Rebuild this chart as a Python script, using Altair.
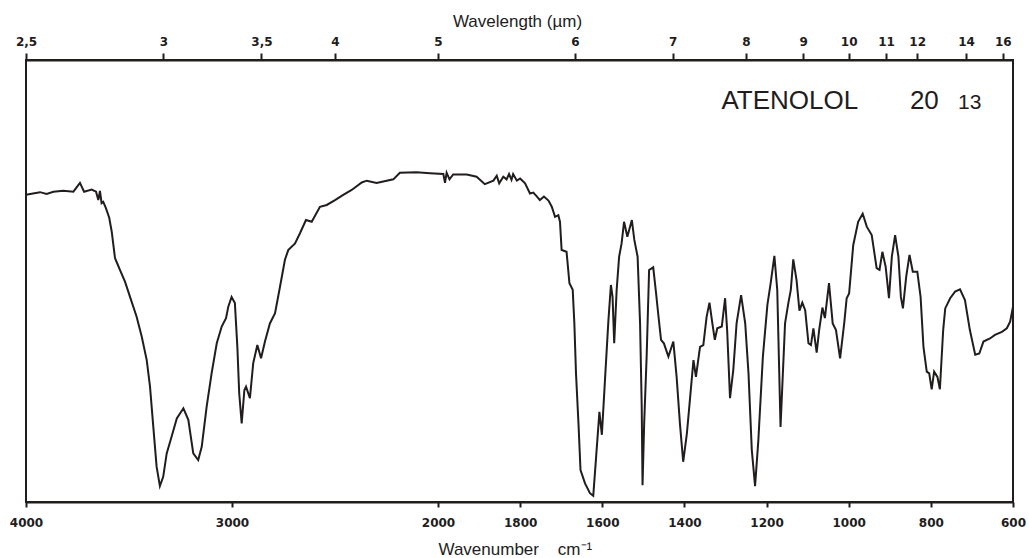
import altair as alt
import pandas as pd

# IR spectrum of atenolol (wavenumber in cm-1, transmittance in %)
wavenumber = [
    4000, 3932, 3900, 3867, 3819, 3770, 3738, 3718, 3681, 3660, 3649, 3641, 3633, 3625, 3612,
    3596, 3584, 3568, 3560, 3544, 3519, 3495, 3463, 3438, 3414, 3398, 3382, 3366, 3350, 3334,
    3317, 3293, 3268, 3236, 3212, 3188, 3164, 3147, 3123, 3099, 3074, 3050, 3029, 3018, 3002,
    2986, 2974, 2965, 2953, 2940, 2932, 2913, 2897, 2877, 2859, 2840, 2816, 2791, 2767, 2743,
    2727, 2694, 2670, 2641, 2613, 2573, 2540, 2500, 2460, 2419, 2370, 2346, 2298, 2217, 2185,
    2104, 2039, 1987, 1983, 1979, 1972, 1963, 1930, 1906, 1886, 1865, 1857, 1851, 1841, 1833,
    1827, 1821, 1817, 1808, 1800, 1788, 1776, 1768, 1760, 1752, 1742, 1731, 1723, 1715, 1707,
    1703, 1699, 1687, 1680, 1672, 1668, 1664, 1658, 1653, 1642, 1630, 1622, 1615, 1607, 1601,
    1593, 1585, 1579, 1575, 1571, 1565, 1559, 1553, 1547, 1539, 1528, 1522, 1514, 1508, 1504,
    1502, 1498, 1492, 1486, 1476, 1469, 1464, 1457, 1450, 1439, 1427, 1419, 1411, 1403, 1394,
    1386, 1378, 1372, 1362, 1354, 1346, 1339, 1332, 1326, 1320, 1309, 1301, 1296, 1289, 1281,
    1273, 1262, 1252, 1244, 1236, 1228, 1220, 1209, 1198, 1190, 1181, 1174, 1166, 1155, 1147,
    1141, 1135, 1127, 1120, 1113, 1106, 1098, 1092, 1086, 1078, 1072, 1064, 1058, 1048, 1039,
    1031, 1021, 1011, 1005, 999, 989, 977, 966, 956, 944, 932, 925, 918, 910, 902,
    895, 887, 879, 873, 868, 860, 852, 844, 833, 825, 818, 810, 804, 798, 792,
    784, 778, 770, 765, 753, 741, 729, 717, 705, 692, 682, 672, 656, 644, 627,
    615, 607, 600,
]
transmittance = [
    69.5, 70.1, 69.7, 70.2, 70.4, 70.2, 72.2, 70.2, 70.7, 70.2, 68.3, 70.4, 67.6, 67.9, 66.5,
    64.3, 61.2, 55.2, 54.3, 52.5, 49.8, 46.4, 41.9, 37.4, 32.1, 26.1, 17.0, 8.0, 3.6, 5.7,
    11.0, 14.8, 18.9, 21.2, 18.6, 11.0, 9.5, 12.5, 21.6, 29.1, 35.9, 39.7, 41.6, 44.2, 46.4,
    45.0, 35.1, 24.6, 17.8, 25.3, 26.1, 23.5, 31.4, 35.5, 32.5, 36.3, 40.4, 42.7, 48.7, 54.8,
    57.0, 58.5, 60.8, 63.8, 63.4, 66.8, 67.2, 68.3, 69.5, 70.6, 72.3, 72.7, 72.2, 73.0, 74.5,
    74.6, 74.4, 74.2, 72.2, 74.5, 73.0, 74.1, 74.1, 73.6, 71.9, 72.7, 73.8, 72.1, 73.6, 73.0,
    74.2, 72.9, 74.2, 72.7, 73.2, 72.1, 69.8, 70.0, 69.2, 68.3, 69.1, 68.2, 66.8, 64.5, 64.9,
    63.4, 57.0, 56.6, 49.5, 48.0, 40.4, 29.1, 17.8, 7.2, 4.2, 2.0, 1.4, 10.2, 20.4, 15.2,
    28.3, 41.2, 49.1, 46.4, 35.9, 48.0, 55.5, 58.5, 63.4, 60.0, 63.8, 59.3, 55.5, 40.4, 21.6,
    3.8, 17.8, 32.9, 52.5, 53.1, 47.2, 42.7, 36.7, 35.9, 32.9, 36.3, 28.3, 17.8, 9.1, 15.5,
    23.8, 32.1, 28.3, 35.1, 35.5, 41.9, 45.1, 40.4, 36.7, 39.3, 39.7, 46.1, 38.9, 23.5, 29.9,
    40.4, 46.8, 40.4, 29.1, 11.8, 3.6, 14.0, 32.9, 44.6, 49.5, 55.7, 48.0, 17.0, 40.4, 45.0,
    48.0, 54.9, 50.2, 43.3, 45.1, 43.4, 35.9, 35.5, 39.3, 33.8, 38.9, 44.0, 41.6, 49.5, 40.4,
    38.9, 32.5, 40.4, 46.1, 47.2, 58.1, 63.4, 65.2, 62.3, 60.4, 52.9, 52.5, 56.6, 53.2, 46.1,
    55.5, 60.4, 55.5, 46.4, 43.8, 51.0, 55.9, 52.1, 52.1, 46.4, 35.1, 29.5, 29.1, 25.5, 29.5,
    28.3, 25.5, 38.9, 43.8, 46.1, 47.6, 48.1, 45.7, 38.9, 33.3, 33.6, 36.3, 37.0, 37.8, 38.5,
    39.3, 40.8, 44.2,
]

wavenumber_ticks = [4000, 3000, 2000, 1800, 1600, 1400, 1200, 1000, 800, 600]
wavelength_ticks = [2.5, 3, 3.5, 4, 5, 6, 7, 8, 9, 10, 11, 12, 14, 16]

annot_big = ["ATENOLOL", "20"]
annot_big_x = [1310, 851]
annot_small = ["13"]
annot_small_x = [734]
annot_y = 89

df = pd.DataFrame({"wn": wavenumber, "T": transmittance, "order": list(range(len(wavenumber)))})
big_df = pd.DataFrame({"wn": annot_big_x, "T": [annot_y] * len(annot_big), "label": annot_big})
small_df = pd.DataFrame({"wn": annot_small_x, "T": [annot_y] * len(annot_small), "label": annot_small})

INK = "#221d1d"
W, H = 987, 442
xscale = alt.Scale(domain=[4000, 2000, 600], range=[0, 412, W])
yscale = alt.Scale(domain=[0, 100])

axis_common = dict(
    domainColor=INK, domainWidth=2, tickColor=INK, tickWidth=2,
    labelFont="DejaVu Sans", labelFontWeight="bold", labelFontSize=12, labelColor=INK,
    labelFlush=False, labelOverlap=False, grid=False,
    titleFont="Liberation Sans", titleFontSize=17, titleFontWeight="normal", titleColor=INK,
)

line = alt.Chart(df).mark_line(color=INK, strokeWidth=2).encode(
    x=alt.X("wn:Q", scale=xscale, axis=alt.Axis(
        orient="bottom", values=wavenumber_ticks, format="d", tickSize=5, labelPadding=10,
        title="Wavenumber\u00a0\u00a0\u00a0\u00a0cm\u207b\u00b9", titleAlign="left", titleX=412,
        titleY=52, titleBaseline="alphabetic", **axis_common)),
    y=alt.Y("T:Q", scale=yscale, axis=None),
    order="order:Q",
)

top = alt.Chart(df).mark_line(opacity=0).encode(
    x=alt.X("wn:Q", scale=xscale, axis=alt.Axis(
        orient="top", values=[10000 / w for w in wavelength_ticks], tickSize=7, labelPadding=5,
        labelExpr="replace(format(10000 / datum.value, '.2~f'), '.', ',')",
        title="Wavelength (\u00b5m)", titleAlign="center", titleX=491, titleY=-34,
        titleBaseline="alphabetic", **axis_common)),
    y=alt.Y("T:Q", scale=yscale, axis=None),
    order="order:Q",
)

big_text = alt.Chart(big_df).mark_text(
    align="left", baseline="alphabetic", font="Liberation Sans", fontSize=26, color=INK
).encode(
    x=alt.X("wn:Q", scale=xscale, axis=None),
    y=alt.Y("T:Q", scale=yscale, axis=None),
    text="label:N",
)
small_text = alt.Chart(small_df).mark_text(
    align="left", baseline="alphabetic", font="Liberation Sans", fontSize=21, color=INK
).encode(
    x=alt.X("wn:Q", scale=xscale, axis=None),
    y=alt.Y("T:Q", scale=yscale, axis=None),
    text="label:N",
)

chart = alt.layer(line, top, big_text, small_text).resolve_axis(x="independent").properties(
    width=W, height=H,
    autosize=alt.AutoSizeParams(type="none"),
    padding={"left": 26, "top": 60, "right": 16, "bottom": 56},
    background="white",
).configure_view(stroke=INK, strokeWidth=2)

chart.save("out.html", embed_options={"renderer": "svg", "actions": False})
